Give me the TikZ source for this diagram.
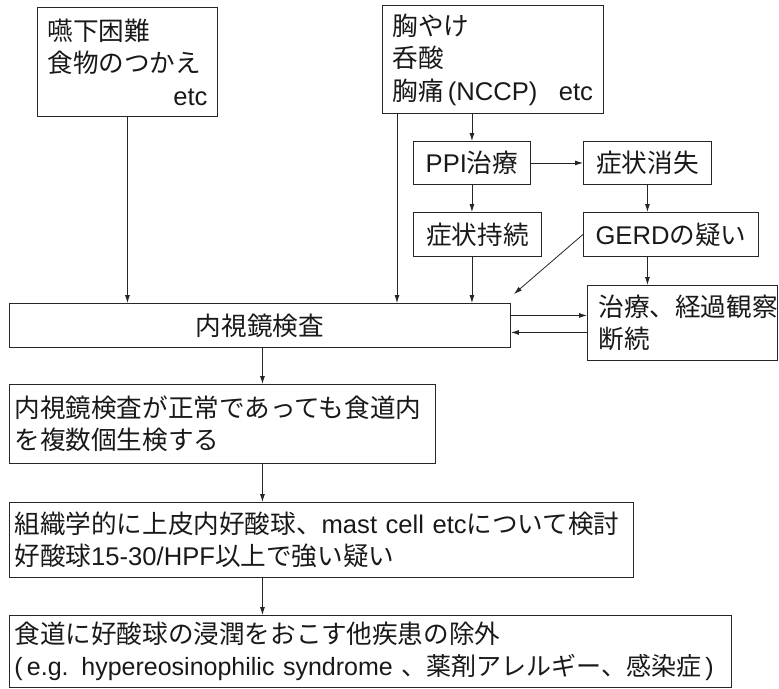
\documentclass[tikz,border=0pt]{standalone}
\usepackage{fontspec}
\setmainfont{Noto Sans CJK JP}
\newfontfamily\lat{Liberation Sans}
\usetikzlibrary{arrows.meta}
\tikzset{
  box/.style={draw=black!85, line width=0.9pt, anchor=north west, inner xsep=10pt, inner ysep=0pt,
    align=left, text=black!90, font=\fontsize{25.6}{32.5}\selectfont},
  cbox/.style={box, align=center},
  arr/.style={draw=black!85, line width=0.8pt, -{Latex[length=8pt,width=5pt]}}
}
\begin{document}
\begin{tikzpicture}[x=1pt,y=-1pt]
\useasboundingbox (0,0) rectangle (779,688);
% top boxes
\node[box, minimum width=180pt, minimum height=109pt, text width=160pt] (a) at (37,7)
  {嚥下困難\\食物のつかえ\\\hspace*{\fill}{\lat etc}};
\node[box, minimum width=221pt, minimum height=108pt, text width=201pt] (b) at (382,5)
  {胸やけ\\呑酸\\\mbox{胸痛\,{\lat (NCCP)\enspace\ etc}}};
\node[cbox, minimum width=117pt, minimum height=43pt, text width=97pt] (ppi) at (413,141)
  {{\lat PPI}治療};
\node[cbox, minimum width=128pt, minimum height=43pt, text width=108pt] (shou) at (583,141)
  {症状消失};
\node[cbox, minimum width=128pt, minimum height=44pt, text width=108pt] (jiz) at (413,212)
  {症状持続};
\node[cbox, minimum width=175pt, minimum height=44pt, text width=155pt] (gerd) at (583,212)
  {{\lat GERD}の疑い};
\node[box, minimum width=190pt, minimum height=75pt, text width=180pt, inner xsep=5pt] (treat) at (587,285)
  {\hspace*{6pt}治療、経過観察\\\hspace*{6pt}断続};
% main column
\node[cbox, minimum width=501pt, minimum height=44pt, text width=481pt] (endo) at (9,303)
  {内視鏡検査};
\node[box, minimum width=426pt, minimum height=79pt, text width=416pt, inner xsep=5pt] (b3) at (9,384)
  {内視鏡検査が正常であっても食道内\\を複数個生検する};
\node[box, minimum width=624pt, minimum height=75pt, text width=614pt, inner xsep=5pt] (b4) at (9,502)
  {組織学的に上皮内好酸球、{\lat mast cell etc}について検討\\好酸球{\lat 15-30/HPF}以上で強い疑い};
\node[box, minimum width=722pt, minimum height=72pt, text width=712pt, inner xsep=5pt] (b5) at (9,615)
  {食道に好酸球の浸潤をおこす他疾患の除外\\\mbox{\fontsize{25}{32.5}\selectfont{\lat (\,e.g. hypereosinophilic syndrome }、薬剤アレルギー、感染症\,{\lat )}}};
% connectors
\coordinate (bx) at ([xshift=15pt]b.south west);
\coordinate (gtip) at (514,294);
\draw[arr] (a.south) -- (a.south |- endo.north);
\draw[arr] (bx) -- (bx |- endo.north);
\draw[arr] (b.south -| ppi.north) -- (ppi.north);
\draw[arr] (ppi.east) -- (ppi.east -| shou.west);
\draw[arr] (ppi.south) -- (ppi.south |- jiz.north);
\draw[arr] (jiz.south -| ppi.south) -- (ppi.south |- endo.north);
\draw[arr] (shou.south) -- (shou.south |- gerd.north);
\draw[arr] (shou.south |- gerd.south) -- (shou.south |- treat.north);
\draw[arr] (gerd.west) -- (gtip);
\draw[arr] ([yshift=10pt]endo.east) -- ([yshift=10pt]endo.east -| treat.west);
\draw[arr] ([yshift=-7pt]endo.east -| treat.west) -- ([yshift=-7pt]endo.east);
\coordinate (mx) at ([xshift=2.5pt]endo.south);
\draw[arr] (mx) -- (mx |- b3.north);
\draw[arr] (mx |- b3.south) -- (mx |- b4.north);
\draw[arr] (mx |- b4.south) -- (mx |- b5.north);
\end{tikzpicture}
\end{document}
